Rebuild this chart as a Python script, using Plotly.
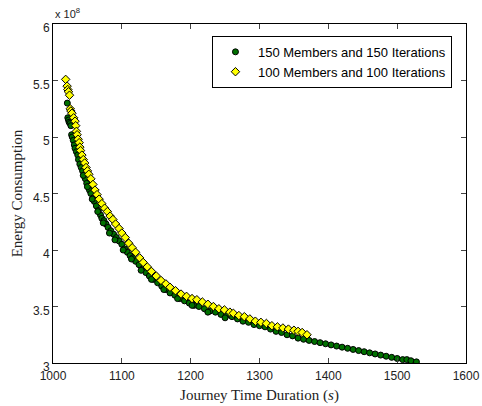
import plotly.graph_objects as go

# Series 1: 150 Members and 150 Iterations (x: s, y: energy in units of 1e8)
g_time = [1020.8, 1021.5, 1022.5, 1023.5, 1025, 1026, 1027, 1028, 1029.5, 1031, 1032, 1034, 1036, 1037,
          1039, 1041, 1043, 1045, 1047, 1049, 1051, 1053, 1055, 1058, 1060, 1063, 1066, 1069, 1071, 1074,
          1077, 1080, 1084, 1088, 1092, 1096, 1100, 1104, 1108, 1112, 1116, 1120, 1125, 1130, 1135, 1140,
          1146, 1152, 1158, 1164, 1170, 1177, 1184, 1191, 1198, 1205, 1212, 1220, 1228, 1236, 1244, 1252,
          1260, 1268, 1276, 1284, 1292, 1300, 1308, 1316, 1324, 1332, 1340, 1348, 1356, 1364, 1372, 1380,
          1388, 1396, 1404, 1412, 1420, 1428, 1436, 1444, 1452, 1460, 1468, 1476, 1484, 1492, 1500, 1508,
          1514, 1520, 1528,
          1044, 1050, 1057, 1065, 1073, 1082, 1090, 1102, 1114, 1128, 1143, 1161, 1181, 1202, 1225, 1250]
g_energy = [5.30, 5.17, 5.15, 5.13, 5.12, 5.10, 5.02, 5.00, 4.97, 4.93, 4.90, 4.87, 4.84, 4.80,
            4.76, 4.73, 4.70, 4.66, 4.63, 4.59, 4.56, 4.53, 4.50, 4.46, 4.43, 4.39, 4.35, 4.31, 4.28, 4.26,
            4.23, 4.20, 4.17, 4.14, 4.11, 4.08, 4.05, 4.01, 3.98, 3.95, 3.93, 3.90, 3.87, 3.83, 3.80, 3.77,
            3.74, 3.71, 3.68, 3.65, 3.62, 3.60, 3.57, 3.55, 3.53, 3.51, 3.50, 3.48, 3.46, 3.45, 3.43, 3.42,
            3.41, 3.39, 3.37, 3.36, 3.34, 3.33, 3.32, 3.30, 3.28, 3.27, 3.25, 3.24, 3.22, 3.21, 3.20, 3.19,
            3.18, 3.17, 3.16, 3.15, 3.14, 3.13, 3.12, 3.11, 3.10, 3.09, 3.08, 3.07, 3.06, 3.05, 3.04, 3.03,
            3.03, 3.02, 3.01,
            4.66, 4.56, 4.45, 4.34, 4.24, 4.15, 4.09, 4.00, 3.92, 3.82, 3.74, 3.65, 3.57, 3.51, 3.45, 3.40]

# Series 2: 100 Members and 100 Iterations
y_time = [1018.4, 1020.5, 1021.5, 1022.5, 1024, 1025, 1026, 1027.5, 1030, 1032, 1033, 1034, 1035, 1036.5,
          1038, 1039, 1040, 1042, 1044, 1046, 1048, 1050, 1052, 1055, 1058, 1061, 1064, 1067, 1071, 1075,
          1079, 1083, 1087, 1091, 1096, 1100, 1105, 1110, 1115, 1120, 1126, 1131, 1137, 1143, 1150, 1157,
          1164, 1170, 1178, 1186, 1194, 1202, 1209, 1217, 1225, 1233, 1241, 1249, 1257, 1262, 1270, 1278,
          1286, 1294, 1302, 1310, 1318, 1326, 1334, 1342, 1350, 1356, 1362, 1369]
y_energy = [5.51, 5.45, 5.42, 5.40, 5.37, 5.25, 5.23, 5.21, 5.17, 5.14, 5.10, 5.05, 5.02, 4.98,
            4.95, 4.91, 4.88, 4.84, 4.80, 4.77, 4.73, 4.70, 4.67, 4.63, 4.58, 4.53, 4.49, 4.45, 4.41, 4.37,
            4.34, 4.30, 4.27, 4.23, 4.19, 4.15, 4.11, 4.06, 4.02, 3.98, 3.93, 3.89, 3.85, 3.81, 3.77, 3.73,
            3.70, 3.67, 3.64, 3.61, 3.59, 3.57, 3.56, 3.54, 3.52, 3.50, 3.48, 3.47, 3.45, 3.44, 3.42, 3.41,
            3.39, 3.37, 3.36, 3.35, 3.33, 3.32, 3.31, 3.30, 3.29, 3.28, 3.27, 3.25]

series_names = ["150 Members and 150 Iterations", "100 Members and 100 Iterations"]
x_ticks = [1000, 1100, 1200, 1300, 1400, 1500, 1600]
y_ticks = [3, 3.5, 4, 4.5, 5, 5.5, 6]
y_tick_text = ["3", "3.5", "4", "4.5", "5", "5.5", "6"]

fig = go.Figure()
fig.add_trace(go.Scatter(
    x=g_time, y=g_energy, mode="markers", name=series_names[0],
    marker=dict(symbol="circle", size=6, color="#007000", line=dict(color="black", width=1)),
))
fig.add_trace(go.Scatter(
    x=y_time, y=y_energy, mode="markers", name=series_names[1],
    marker=dict(symbol="diamond", size=6.5, color="#ffff00", line=dict(color="black", width=1)),
))

tick_font = dict(family="Liberation Sans, Arial", size=12, color="#222")
title_font = dict(family="Liberation Serif, Times New Roman", size=15, color="#222")

fig.update_layout(
    width=482, height=406,
    margin=dict(l=53, r=16, t=24, b=43),
    paper_bgcolor="white", plot_bgcolor="white",
    showlegend=True,
    legend=dict(
        x=0.966, y=0.965, xanchor="right", yanchor="top",
        bordercolor="black", borderwidth=1, bgcolor="white",
        font=dict(family="Liberation Sans, Arial", size=13, color="black"),
        tracegroupgap=0, itemsizing="trace", itemwidth=35,
    ),
    xaxis=dict(
        range=[1000, 1600], tickvals=x_ticks, ticks="inside", ticklen=5,
        showline=True, linecolor="black", linewidth=1, mirror="ticks",
        showgrid=False, zeroline=False, tickfont=tick_font, ticklabelstandoff=2,
        automargin=False,
        title=dict(text="Journey Time Duration (<i>s</i>)", font=title_font, standoff=7),
    ),
    yaxis=dict(
        range=[3, 6], tickvals=y_ticks, ticktext=y_tick_text, ticks="inside", ticklen=5,
        showline=True, linecolor="black", linewidth=1, mirror="ticks",
        showgrid=False, zeroline=False, tickfont=tick_font, ticklabelshift=4,
        automargin=False,
        title=dict(text="Energy Consumption", font=title_font, standoff=6),
    ),
)
fig.add_annotation(
    text="x 10<sup>8</sup>", xref="paper", yref="paper", x=0, y=1.0,
    xanchor="left", yanchor="bottom", showarrow=False,
    font=dict(family="Liberation Sans, Arial", size=11, color="#222"), yshift=2,
)

fig.write_html("out.html")
